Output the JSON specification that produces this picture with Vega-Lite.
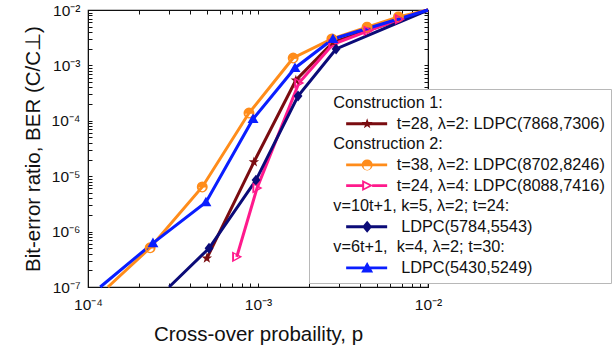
{
  "$schema": "https://vega.github.io/schema/vega-lite/v6.json",
  "width": 340,
  "height": 277,
  "autosize": "none",
  "padding": {"left": 88, "top": 10, "right": 188, "bottom": 64},
  "background": "white",
  "config": {
    "view": {"stroke": "#111", "strokeWidth": 1.2},
    "axis": {"grid": false}
  },
  "data": {
    "values": [
      {"series": "t=38, λ=2: LDPC(8702,8246)", "p": 0.000131, "ber": 1e-7},
      {"series": "t=38, λ=2: LDPC(8702,8246)", "p": 0.000232, "ber": 5.1e-7},
      {"series": "t=38, λ=2: LDPC(8702,8246)", "p": 0.00047, "ber": 6.4e-6},
      {"series": "t=38, λ=2: LDPC(8702,8246)", "p": 0.000885, "ber": 0.000138},
      {"series": "t=38, λ=2: LDPC(8702,8246)", "p": 0.00161, "ber": 0.00136},
      {"series": "t=38, λ=2: LDPC(8702,8246)", "p": 0.00272, "ber": 0.003},
      {"series": "t=38, λ=2: LDPC(8702,8246)", "p": 0.00438, "ber": 0.0049},
      {"series": "t=38, λ=2: LDPC(8702,8246)", "p": 0.0067, "ber": 0.0075},
      {"series": "t=38, λ=2: LDPC(8702,8246)", "p": 0.01, "ber": 0.01},
      {"series": "t=28, λ=2: LDPC(7868,7306)", "p": 0.0005, "ber": 3.3e-7},
      {"series": "t=28, λ=2: LDPC(7868,7306)", "p": 0.000946, "ber": 1.8e-5},
      {"series": "t=28, λ=2: LDPC(7868,7306)", "p": 0.00167, "ber": 0.00054},
      {"series": "t=28, λ=2: LDPC(7868,7306)", "p": 0.00276, "ber": 0.0026},
      {"series": "t=28, λ=2: LDPC(7868,7306)", "p": 0.01, "ber": 0.01},
      {"series": "t=24, λ=4: LDPC(8088,7416)", "p": 0.00075, "ber": 3.5e-7},
      {"series": "t=24, λ=4: LDPC(8088,7416)", "p": 0.000987, "ber": 6.1e-6},
      {"series": "t=24, λ=4: LDPC(8088,7416)", "p": 0.00174, "ber": 0.00048},
      {"series": "t=24, λ=4: LDPC(8088,7416)", "p": 0.00276, "ber": 0.0024},
      {"series": "t=24, λ=4: LDPC(8088,7416)", "p": 0.00445, "ber": 0.0042},
      {"series": "t=24, λ=4: LDPC(8088,7416)", "p": 0.0068, "ber": 0.0068},
      {"series": "t=24, λ=4: LDPC(8088,7416)", "p": 0.01, "ber": 0.01},
      {"series": "LDPC(5784,5543)", "p": 0.0003, "ber": 1e-7},
      {"series": "LDPC(5784,5543)", "p": 0.000515, "ber": 5.0e-7},
      {"series": "LDPC(5784,5543)", "p": 0.000973, "ber": 8.5e-6},
      {"series": "LDPC(5784,5543)", "p": 0.00172, "ber": 0.00028},
      {"series": "LDPC(5784,5543)", "p": 0.00288, "ber": 0.00198},
      {"series": "LDPC(5784,5543)", "p": 0.01, "ber": 0.01},
      {"series": "LDPC(5430,5249)", "p": 0.000118, "ber": 1e-7},
      {"series": "LDPC(5430,5249)", "p": 0.000241, "ber": 6.2e-7},
      {"series": "LDPC(5430,5249)", "p": 0.000494, "ber": 3.4e-6},
      {"series": "LDPC(5430,5249)", "p": 0.000935, "ber": 0.000108},
      {"series": "LDPC(5430,5249)", "p": 0.00165, "ber": 0.0009},
      {"series": "LDPC(5430,5249)", "p": 0.00276, "ber": 0.003},
      {"series": "LDPC(5430,5249)", "p": 0.01, "ber": 0.01}
    ]
  },
  "layer": [
    {
      "mark": {"type": "line", "strokeWidth": 3},
      "encoding": {
        "x": {
          "field": "p", "type": "quantitative",
          "scale": {"type": "log", "domain": [0.0001, 0.01]},
          "axis": {
            "orient": "bottom",
            "labelExpr": "abs(log(datum.value)/LN10-round(log(datum.value)/LN10))<0.01 ? '10⁻' + ['⁰','¹','²','³','⁴','⁵','⁶','⁷','⁸','⁹'][-round(log(datum.value)/LN10)] : ''",
            "labelFlush": false,
            "labelOverlap": false,
            "tickSize": -4,
            "tickColor": "#111",
            "domainColor": "#111",
            "labelPadding": 14,
            "labelFont": "Liberation Sans",
            "labelFontSize": 15.5,
            "labelColor": "#111",
            "title": "Cross-over probaility, p",
            "titleFont": "Liberation Sans",
            "titleFontSize": 20.5,
            "titleFontWeight": "normal",
            "titleColor": "#111",
            "titlePadding": 12
          }
        },
        "y": {
          "field": "ber", "type": "quantitative",
          "scale": {"type": "log", "domain": [1e-7, 0.01]},
          "axis": {
            "orient": "left",
            "labelExpr": "abs(log(datum.value)/LN10-round(log(datum.value)/LN10))<0.01 ? '10⁻' + ['⁰','¹','²','³','⁴','⁵','⁶','⁷','⁸','⁹'][-round(log(datum.value)/LN10)] : ''",
            "labelFlush": false,
            "labelOverlap": false,
            "tickSize": -4,
            "tickColor": "#111",
            "domainColor": "#111",
            "labelPadding": 12,
            "labelFont": "Liberation Sans",
            "labelFontSize": 15.5,
            "labelColor": "#111",
            "title": "Bit-error ratio, BER (C/C⊥)",
            "titleFont": "Liberation Sans",
            "titleFontSize": 20.5,
            "titleFontWeight": "normal",
            "titleColor": "#111",
            "titlePadding": 8
          }
        },
        "color": {
          "field": "series", "type": "nominal", "legend": null,
          "scale": {
            "domain": ["t=38, λ=2: LDPC(8702,8246)", "t=28, λ=2: LDPC(7868,7306)", "t=24, λ=4: LDPC(8088,7416)", "LDPC(5784,5543)", "LDPC(5430,5249)"],
            "range": ["#ff8c1a", "#7a0c10", "#ff1a8c", "#0b0b78", "#0a1eff"]
          }
        }
      }
    },
    {
      "transform": [{"filter": "datum.ber > 1.05e-7 && datum.p < 0.0099"}],
      "mark": {"type": "point", "filled": true, "opacity": 1, "size": 120, "strokeWidth": 0},
      "encoding": {
        "x": {"field": "p", "type": "quantitative", "scale": {"type": "log", "domain": [0.0001, 0.01]}, "axis": null},
        "y": {"field": "ber", "type": "quantitative", "scale": {"type": "log", "domain": [1e-7, 0.01]}, "axis": null},
        "color": {
          "field": "series", "type": "nominal", "legend": null,
          "scale": {
            "domain": ["t=38, λ=2: LDPC(8702,8246)", "t=28, λ=2: LDPC(7868,7306)", "t=24, λ=4: LDPC(8088,7416)", "LDPC(5784,5543)", "LDPC(5430,5249)"],
            "range": ["#ff8c1a", "#7a0c10", "#ff1a8c", "#0b0b78", "#0a1eff"]
          }
        },
        "shape": {
          "field": "series", "type": "nominal", "legend": null,
          "scale": {
            "domain": ["t=38, λ=2: LDPC(8702,8246)", "t=28, λ=2: LDPC(7868,7306)", "t=24, λ=4: LDPC(8088,7416)", "LDPC(5784,5543)", "LDPC(5430,5249)"],
            "range": [
              "M1,0L0.924,0.383L0.707,0.707L0.383,0.924L0,1L-0.383,0.924L-0.707,0.707L-0.924,0.383L-1,0L-0.924,-0.383L-0.707,-0.707L-0.383,-0.924L0,-1L0.383,-0.924L0.707,-0.707L0.924,-0.383Z M-0.65,0.12L-0.563,0.445L-0.325,0.683L0,0.77L0.325,0.683L0.563,0.445L0.65,0.12Z",
              "M0,-1L0.235,-0.324L0.951,-0.309L0.38,0.124L0.588,0.809L0,0.4L-0.588,0.809L-0.38,0.124L-0.951,-0.309L-0.235,-0.324Z",
              "M-0.85,-1L1,0L-0.85,1Z M-0.5,-0.55L-0.5,0.55L0.45,0Z",
              "M0,-1L0.8,0L0,1L-0.8,0Z",
              "M0,-1L1,0.75L-1,0.75Z"
            ]
          }
        }
      }
    },
    {
      "mark": {"type": "point", "filled": true, "opacity": 0},
      "encoding": {
        "x": {
          "field": "p", "type": "quantitative",
          "scale": {"type": "log", "domain": [0.0001, 0.01]},
          "axis": {"orient": "top", "labels": false, "title": null, "tickSize": -4, "tickColor": "#111", "domainColor": "#111"}
        },
        "y": {
          "field": "ber", "type": "quantitative",
          "scale": {"type": "log", "domain": [1e-7, 0.01]},
          "axis": {"orient": "right", "labels": false, "title": null, "tickSize": -4, "tickColor": "#111", "domainColor": "#111"}
        },
        "color": {
          "field": "series", "type": "nominal",
          "scale": {
            "domain": ["Construction 1:", "\u200b\u00a0\u00a0\u00a0\u00a0\u00a0\u00a0\u00a0\u00a0\u00a0\u00a0\u00a0\u00a0\u00a0\u00a0t=28, λ=2: LDPC(7868,7306)", "Construction 2:", "\u200b\u00a0\u00a0\u00a0\u00a0\u00a0\u00a0\u00a0\u00a0\u00a0\u00a0\u00a0\u00a0\u00a0\u00a0t=38, λ=2: LDPC(8702,8246)", "\u200b\u00a0\u00a0\u00a0\u00a0\u00a0\u00a0\u00a0\u00a0\u00a0\u00a0\u00a0\u00a0\u00a0\u00a0t=24, λ=4: LDPC(8088,7416)", "v=10t+1, k=5, λ=2; t=24:", "\u200b\u00a0\u00a0\u00a0\u00a0\u00a0\u00a0\u00a0\u00a0\u00a0\u00a0\u00a0\u00a0\u00a0\u00a0\u00a0LDPC(5784,5543)", "v=6t+1,\u00a0 k=4, λ=2; t=30:", "\u200b\u00a0\u00a0\u00a0\u00a0\u00a0\u00a0\u00a0\u00a0\u00a0\u00a0\u00a0\u00a0\u00a0\u00a0\u00a0LDPC(5430,5249)"],
            "range": ["transparent", "#7a0c10", "transparent", "#ff8c1a", "#ff1a8c", "transparent", "#0b0b78", "transparent", "#0a1eff"]
          },
          "legend": {
            "title": null,
            "orient": "none",
            "legendX": 221,
            "legendY": 79,
            "padding": 6,
            "strokeColor": "#b8b8b8",
            "fillColor": "white",
            "symbolSize": 4,
            "symbolStrokeWidth": 0,
            "symbolOpacity": 1,
            "labelOffset": 2,
            "rowPadding": 3.6,
            "labelFont": "Liberation Sans",
            "labelFontSize": 16.3,
            "labelColor": "#111",
            "labelLimit": 400
          }
        },
        "shape": {
          "field": "series", "type": "nominal",
          "scale": {
            "domain": ["Construction 1:", "\u200b\u00a0\u00a0\u00a0\u00a0\u00a0\u00a0\u00a0\u00a0\u00a0\u00a0\u00a0\u00a0\u00a0\u00a0t=28, λ=2: LDPC(7868,7306)", "Construction 2:", "\u200b\u00a0\u00a0\u00a0\u00a0\u00a0\u00a0\u00a0\u00a0\u00a0\u00a0\u00a0\u00a0\u00a0\u00a0t=38, λ=2: LDPC(8702,8246)", "\u200b\u00a0\u00a0\u00a0\u00a0\u00a0\u00a0\u00a0\u00a0\u00a0\u00a0\u00a0\u00a0\u00a0\u00a0t=24, λ=4: LDPC(8088,7416)", "v=10t+1, k=5, λ=2; t=24:", "\u200b\u00a0\u00a0\u00a0\u00a0\u00a0\u00a0\u00a0\u00a0\u00a0\u00a0\u00a0\u00a0\u00a0\u00a0\u00a0LDPC(5784,5543)", "v=6t+1,\u00a0 k=4, λ=2; t=30:", "\u200b\u00a0\u00a0\u00a0\u00a0\u00a0\u00a0\u00a0\u00a0\u00a0\u00a0\u00a0\u00a0\u00a0\u00a0\u00a0LDPC(5430,5249)"],
            "range": [
              "circle",
              "M23,-1.4H64V1.4H23Z M44,-5.5L45.29,-1.78L49.23,-1.7L46.09,0.68L47.23,4.45L44,2.2L40.77,4.45L41.91,0.68L38.77,-1.7L42.71,-1.78Z",
              "circle",
              "M23,-1.4H64V1.4H23Z M49.5,0L49.08,2.1L47.89,3.89L46.1,5.08L44,5.5L41.9,5.08L40.11,3.89L38.92,2.1L38.5,0L38.92,-2.1L40.11,-3.89L41.9,-5.08L44,-5.5L46.1,-5.08L47.89,-3.89L49.08,-2.1Z M40.4,1.4L40.88,3.2L42.2,4.52L44,5L45.8,4.52L47.12,3.2L47.6,1.4Z",
              "M23,-1.4H40V1.4H23Z M49,-1.4H64V1.4H49Z M39,-5.5L50,0L39,5.5Z M41,-2.6L41,2.6L46,0Z",
              "circle",
              "M23,-1.4H64V1.4H23Z M44,-6L49,0L44,6L39,0Z",
              "circle",
              "M23,-1.4H64V1.4H23Z M44,-6L50,4.5L38,4.5Z"
            ]
          },
          "legend": {
            "title": null,
            "orient": "none",
            "legendX": 221,
            "legendY": 79,
            "padding": 6,
            "strokeColor": "#b8b8b8",
            "fillColor": "white",
            "symbolSize": 4,
            "symbolStrokeWidth": 0,
            "symbolOpacity": 1,
            "labelOffset": 2,
            "rowPadding": 3.6,
            "labelFont": "Liberation Sans",
            "labelFontSize": 16.3,
            "labelColor": "#111",
            "labelLimit": 400
          }
        }
      }
    }
  ],
  "resolve": {
    "scale": {"color": "independent", "shape": "independent"},
    "axis": {"x": "independent", "y": "independent"}
  }
}
